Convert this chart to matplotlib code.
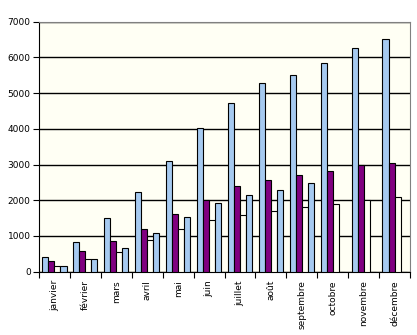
import matplotlib.pyplot as plt
import numpy as np

mois = ["janvier", "février", "mars", "avril", "mai", "juin", "juillet",
        "août", "septembre", "octobre", "novembre", "décembre"]
serie1 = [400, 840, 1510, 2240, 3100, 4030, 4720, 5290, 5500, 5840, 6260, 6510]
serie2 = [310, 580, 860, 1200, 1620, 2000, 2400, 2580, 2720, 2830, 2980, 3050]
serie3 = [170, 360, 560, 900, 1200, 1450, 1600, 1700, 1820, 1900, 2000, 2100]
serie4 = [170, 360, 670, 1080, 1540, 1930, 2150, 2300, 2470, 0, 0, 0]

fond = "#FFFFF4"
couleurs = ["#A6CAF0", "#800080", fond, "#A6CAF0"]

fig = plt.figure(figsize=(4.17, 3.35), dpi=100)
ax = fig.add_axes([39 / 417, 1 - 271.7 / 335, 371 / 417, 250 / 335])
ax.set_facecolor(fond)

x = np.arange(len(mois))
w = 0.195
for i, (vals, c) in enumerate(zip([serie1, serie2, serie3, serie4], couleurs)):
    pos = x + (i - 1.5) * w
    ax.bar(pos, vals, width=w, color=c, edgecolor="black", linewidth=0.8,
           zorder=3)

ax.set_xlim(-0.5, len(mois) - 0.5)
ax.set_ylim(0, 7000)
ax.set_yticks(range(0, 7001, 1000))
ax.yaxis.grid(True, color="black", linewidth=1.0, zorder=1)
ax.set_axisbelow(True)

# ticks between categories, labels centered under each group
ax.set_xticks(np.arange(-0.5, len(mois), 1.0))
ax.set_xticklabels([])
ax.set_xticks(x, minor=True)
ax.set_xticklabels(mois, minor=True, rotation=90, fontsize=6.5,
                   family="DejaVu Sans")
ax.tick_params(axis="x", which="minor", length=0, pad=6)
ax.tick_params(axis="x", which="major", length=4, width=0.8, direction="out")
ax.tick_params(axis="y", length=4, width=0.8, direction="out", pad=2,
               labelsize=6.5)

for s in ["top", "right"]:
    ax.spines[s].set_color("#808080")
for s in ["left", "bottom"]:
    ax.spines[s].set_color("black")
for s in ax.spines.values():
    s.set_linewidth(0.8)

fig.savefig("out.png", dpi=100, facecolor="white")
